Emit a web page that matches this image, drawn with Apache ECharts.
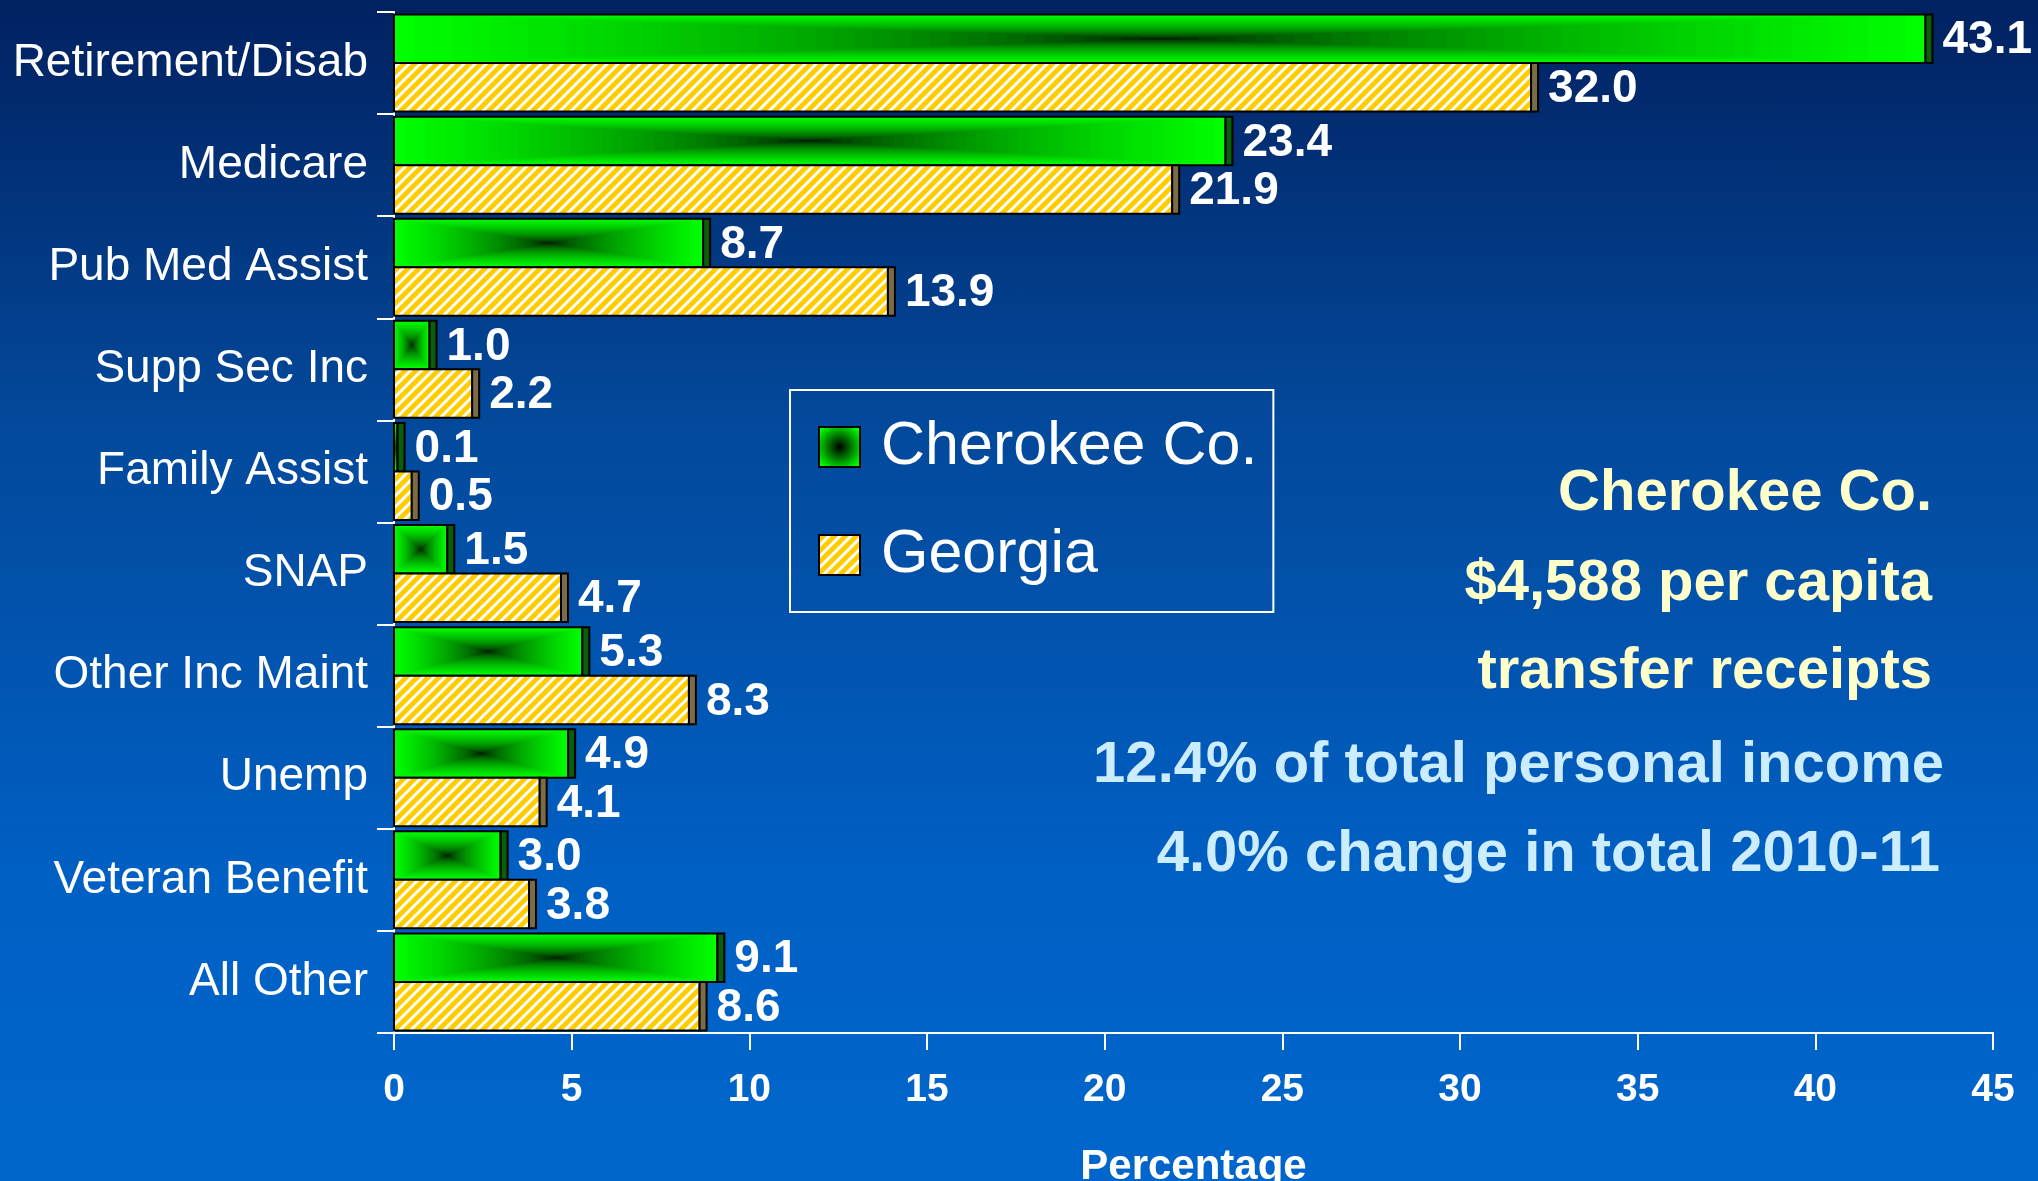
<!DOCTYPE html>
<html>
<head>
<meta charset="utf-8">
<script src="https://cdn.jsdelivr.net/npm/echarts@6/dist/echarts.min.js"></script>
<style>
  html, body { margin: 0; padding: 0; }
  #chart {
    width: 2038px; height: 1181px;
    background: linear-gradient(to bottom, #012160 0%, #03489A 35%, #0060C4 75%, #0066CC 100%);
  }
</style>
</head>
<body>
<div id="chart"></div>
<script>
const categories = ['Retirement/Disab', 'Medicare', 'Pub Med Assist', 'Supp Sec Inc', 'Family Assist',
  'SNAP', 'Other Inc Maint', 'Unemp', 'Veteran Benefit', 'All Other'];
const cherokee = [43.1, 23.4, 8.7, 1.0, 0.1, 1.5, 5.3, 4.9, 3.0, 9.1];
const georgia = [32.0, 21.9, 13.9, 2.2, 0.5, 4.7, 8.3, 4.1, 3.8, 8.6];
const seriesNames = ['Cherokee Co.', 'Georgia'];
const summaryLines = ['Cherokee Co.', '$4,588 per capita', 'transfer receipts'];
const incomeLines = ['12.4% of total personal income', '4.0% change in total 2010-11'];

const SANS = '"Liberation Sans", Arial, sans-serif';

// yellow / white diagonal hatch
const makeHatch = () => {
  const s = 11;
  const c = document.createElement('canvas');
  c.width = s; c.height = s;
  const g = c.getContext('2d');
  g.fillStyle = '#FFCC00';
  g.fillRect(0, 0, s, s);
  g.strokeStyle = '#ffffff';
  g.lineWidth = 3;
  g.beginPath();
  g.moveTo(-s / 2, s / 2); g.lineTo(s / 2, -s / 2);
  g.moveTo(0, s); g.lineTo(s, 0);
  g.moveTo(s / 2, s * 1.5); g.lineTo(s * 1.5, s / 2);
  g.stroke();
  return c;
};
const hatchFill = { image: makeHatch(), repeat: 'repeat' };

// green at the edge, black at the centre
const greenAt = (t) => 'rgb(0,' + Math.round(255 * Math.pow(t, 0.55)) + ',0)';

// bars drawn as flat 3D-looking boxes, green one on top half of the band
const barRenderer = (isTop) => (params, api) => {
  const val = api.value(0);
  const cat = api.value(1);
  const p0 = api.coord([0, cat]);
  const p1 = api.coord([val, cat]);
  const band = api.size([0, 1])[1];
  const h = band * 0.475;
  const x = p0[0];
  const y = isTop ? p0[1] - h : p0[1];
  const w = p1[0] - p0[0];
  const side = 7;
  const children = [];
  if (isTop) {
    const steps = 40;
    for (let i = 0; i < steps; i++) {
      const t = 1 - i / steps;
      children.push({
        type: 'rect',
        shape: { x: x + w * (1 - t) / 2, y: y + h * (1 - t) / 2, width: w * t, height: h * t },
        style: { fill: greenAt(t) }
      });
    }
  } else {
    children.push({ type: 'rect', shape: { x: x, y: y, width: w, height: h }, style: { fill: hatchFill } });
  }
  children.push({ type: 'rect', shape: { x: x, y: y, width: w, height: h },
    style: { fill: 'none', stroke: '#000', lineWidth: 2 } });
  children.push({ type: 'rect', shape: { x: x + w, y: y, width: side, height: h },
    style: { fill: isTop ? '#0B5E0B' : '#7A6C48', stroke: '#000', lineWidth: 2 } });
  children.push({
    type: 'text',
    style: {
      text: val.toFixed(1), x: x + w + side + 10, y: y + h / 2 + 2,
      fill: '#fff', fontSize: 46, fontWeight: 'bold', fontFamily: SANS,
      align: 'left', verticalAlign: 'middle'
    }
  });
  return { type: 'group', children: children };
};

const chart = echarts.init(document.getElementById('chart'));

const textItem = (s, y, right, color) => ({
  type: 'text',
  x: right, y: y,
  style: {
    text: s, fill: color, fontSize: 58, fontWeight: 'bold', fontFamily: SANS,
    align: 'right', verticalAlign: 'middle'
  }
});

chart.setOption({
  backgroundColor: 'transparent',
  animation: false,
  grid: { left: 394, right: 45, top: 12, bottom: 148, containLabel: false, outerBoundsMode: 'none' },
  xAxis: {
    type: 'value', min: 0, max: 45, interval: 5,
    name: 'Percentage', nameLocation: 'middle', nameGap: 113,
    nameTextStyle: { color: '#fff', fontSize: 42, fontWeight: 'bold', fontFamily: SANS },
    axisLine: { show: true, lineStyle: { color: '#fff', width: 2 } },
    axisTick: { show: true, length: 17, lineStyle: { color: '#fff', width: 2 } },
    axisLabel: { color: '#fff', fontSize: 39, fontWeight: 'bold', fontFamily: SANS, margin: 38 },
    splitLine: { show: false }
  },
  yAxis: {
    type: 'category', data: categories, inverse: true,
    axisLine: { show: true, lineStyle: { color: '#fff', width: 2 } },
    axisTick: { show: true, length: 17, lineStyle: { color: '#fff', width: 2 } },
    axisLabel: { color: '#fff', fontSize: 46, fontFamily: SANS, margin: 26 },
    splitLine: { show: false }
  },
  legend: {
    left: 790, top: 390, orient: 'vertical',
    padding: [22, 16, 22, 28],
    itemWidth: 41, itemHeight: 40, itemGap: 38,
    borderColor: '#fff', borderWidth: 2,
    selectedMode: false,
    textStyle: { color: '#fff', fontSize: 61, fontFamily: SANS, lineHeight: 70, padding: [0, 0, 0, 16] },
    data: [
      {
        name: seriesNames[0], icon: 'rect',
        itemStyle: {
          color: new echarts.graphic.RadialGradient(0.5, 0.5, 0.6, [
            { offset: 0, color: '#000' }, { offset: 1, color: '#00ff00' }
          ]),
          borderColor: '#000', borderWidth: 2
        }
      },
      { name: seriesNames[1], icon: 'rect', itemStyle: { color: hatchFill, borderColor: '#000', borderWidth: 2 } }
    ]
  },
  graphic: [
    textItem(summaryLines[0], 494, 1932, '#FFFFCC'),
    textItem(summaryLines[1], 584, 1932, '#FFFFCC'),
    textItem(summaryLines[2], 672, 1932, '#FFFFCC'),
    textItem(incomeLines[0], 766, 1944, '#CCECFF'),
    textItem(incomeLines[1], 855, 1940, '#CCECFF')
  ],
  series: [
    {
      name: seriesNames[0], type: 'custom', renderItem: barRenderer(true),
      encode: { x: 0, y: 1 }, color: '#00ff00',
      data: cherokee.map((v, i) => [v, i])
    },
    {
      name: seriesNames[1], type: 'custom', renderItem: barRenderer(false),
      encode: { x: 0, y: 1 }, color: '#FFCC00',
      data: georgia.map((v, i) => [v, i])
    }
  ]
});
</script>
</body>
</html>
